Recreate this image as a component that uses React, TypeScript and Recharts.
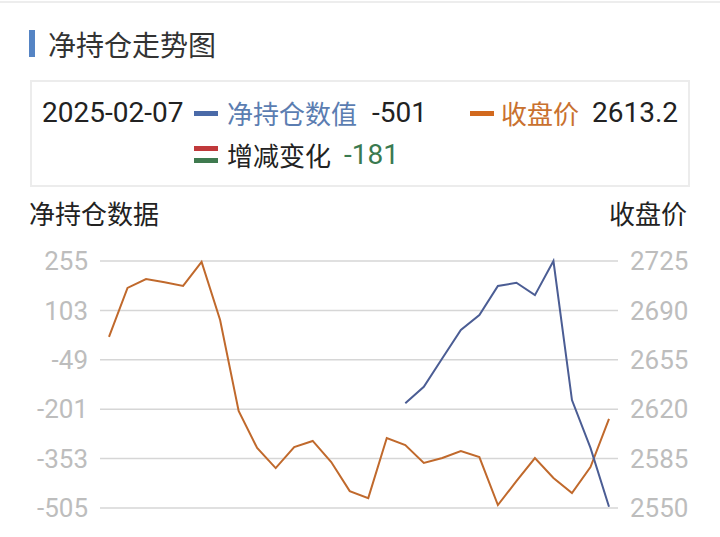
import { CartesianGrid, Line, LineChart, XAxis, YAxis } from "recharts"

// trading days, oldest first (only the last one is shown on the picture)
const dates = [
  "2024-12-23", "2024-12-24", "2024-12-25", "2024-12-26", "2024-12-27", "2024-12-30", "2024-12-31",
  "2025-01-02", "2025-01-03", "2025-01-06", "2025-01-07", "2025-01-08", "2025-01-09", "2025-01-10",
  "2025-01-13", "2025-01-14", "2025-01-15", "2025-01-16", "2025-01-17", "2025-01-20", "2025-01-21",
  "2025-01-22", "2025-01-23", "2025-01-24", "2025-01-27", "2025-02-05", "2025-02-06", "2025-02-07",
]

const netPosition = [
  null, null, null, null, null, null, null, null, null, null, null, null, null, null, null, null,
  -183, -132, -44, 43, 89, 178, 188, 150, 255, -173, -320, -501,
]

const closePrice = [
  2671.2, 2705.9, 2712.2, 2710, 2707.3, 2724.3, 2683.2, 2618.7, 2592.5, 2578.3, 2593.2, 2597.5,
  2582.6, 2562, 2557, 2599.6, 2594.6, 2581.9, 2585.4, 2590.4, 2586.1, 2552.1, 2569, 2585.4,
  2571.3, 2560.6, 2579, 2613.2,
]

const leftTicks = [255, 103, -49, -201, -353, -505]
const rightTicks = [2725, 2690, 2655, 2620, 2585, 2550]

const change = -181

const data = dates.map((d, i) => ({ date: d, net: netPosition[i], close: closePrice[i] }))

const BLUE = "#4b5d94"
const ORANGE = "#c0692c"
const num = "Roboto, 'Noto Sans CJK SC', sans-serif"
const cjk = "'Noto Sans CJK SC', sans-serif"
const tick = { fill: "#bdbdbd", fontSize: 26, fontFamily: num }

const abs = (left: number, top: number, extra: any = {}) => ({
  position: "absolute" as const,
  left,
  top,
  height: 36,
  lineHeight: "36px",
  whiteSpace: "nowrap" as const,
  ...extra,
})

export default function App() {
  const last = data[data.length - 1]
  return (
    <div style={{ position: "fixed", left: 0, top: 0, width: 720, height: 537, background: "#fff", overflow: "hidden" }}>
      <div style={{ position: "absolute", left: 0, top: 1, width: 720, height: 2, background: "#ededed" }} />
      <div style={{ position: "absolute", left: 29, top: 30, width: 6, height: 27, background: "#5584c4" }} />
      <div style={abs(48, 26, { fontSize: 28, fontFamily: cjk, color: "#333" })}>净持仓走势图</div>

      <div
        style={{
          position: "absolute",
          left: 30,
          top: 80,
          width: 660,
          height: 107,
          border: "2px solid #ececec",
          boxSizing: "border-box",
        }}
      />
      <div style={abs(42, 95, { fontSize: 28, fontFamily: num, color: "#222" })}>{last.date}</div>
      <div style={{ position: "absolute", left: 194, top: 111, width: 24, height: 5, background: "#4a6aa8" }} />
      <div style={abs(227, 95, { fontSize: 26, fontFamily: cjk, color: "#5b7db1" })}>净持仓数值</div>
      <div style={abs(372, 95, { fontSize: 28, fontFamily: num, color: "#222" })}>{last.net}</div>
      <div style={{ position: "absolute", left: 470, top: 111, width: 24, height: 5, background: "#d2691e" }} />
      <div style={abs(501, 95, { fontSize: 26, fontFamily: cjk, color: "#c9712f" })}>收盘价</div>
      <div style={abs(592, 95, { fontSize: 28, fontFamily: num, color: "#222" })}>{last.close}</div>

      <div style={{ position: "absolute", left: 194, top: 146, width: 24, height: 5, background: "#c0393b" }} />
      <div style={{ position: "absolute", left: 194, top: 158, width: 24, height: 5, background: "#3f7a4f" }} />
      <div style={abs(227, 137, { fontSize: 26, fontFamily: cjk, color: "#222" })}>增减变化</div>
      <div style={abs(344, 137, { fontSize: 28, fontFamily: num, color: "#3a7a50" })}>{change}</div>

      <div style={abs(29, 195, { fontSize: 26, fontFamily: cjk, color: "#222" })}>净持仓数据</div>
      <div style={abs(609, 195, { fontSize: 26, fontFamily: cjk, color: "#222" })}>收盘价</div>

      <div style={{ position: "absolute", left: 0, top: 200 }}>
        <LineChart width={720} height={337} data={data} margin={{ top: 61, right: 0, bottom: 29, left: 0 }}>
          <CartesianGrid vertical={false} stroke="#d6d6d6" strokeWidth={1.5} yAxisId="left" />
          <XAxis dataKey="date" hide padding={{ left: 9, right: 9 }} />
          <YAxis
            yAxisId="left"
            width={100}
            domain={[-505, 255]}
            ticks={leftTicks}
            axisLine={false}
            tickLine={false}
            tickSize={0}
            tickMargin={12}
            tick={tick}
          />
          <YAxis
            yAxisId="right"
            orientation="right"
            width={102}
            domain={[2550, 2725]}
            ticks={rightTicks}
            axisLine={false}
            tickLine={false}
            tickSize={0}
            tickMargin={12}
            tick={tick}
          />
          <Line yAxisId="right" dataKey="close" stroke={ORANGE} strokeWidth={2} dot={false} isAnimationActive={false} />
          <Line yAxisId="left" dataKey="net" stroke={BLUE} strokeWidth={2} dot={false} isAnimationActive={false} />
        </LineChart>
      </div>
    </div>
  )
}
